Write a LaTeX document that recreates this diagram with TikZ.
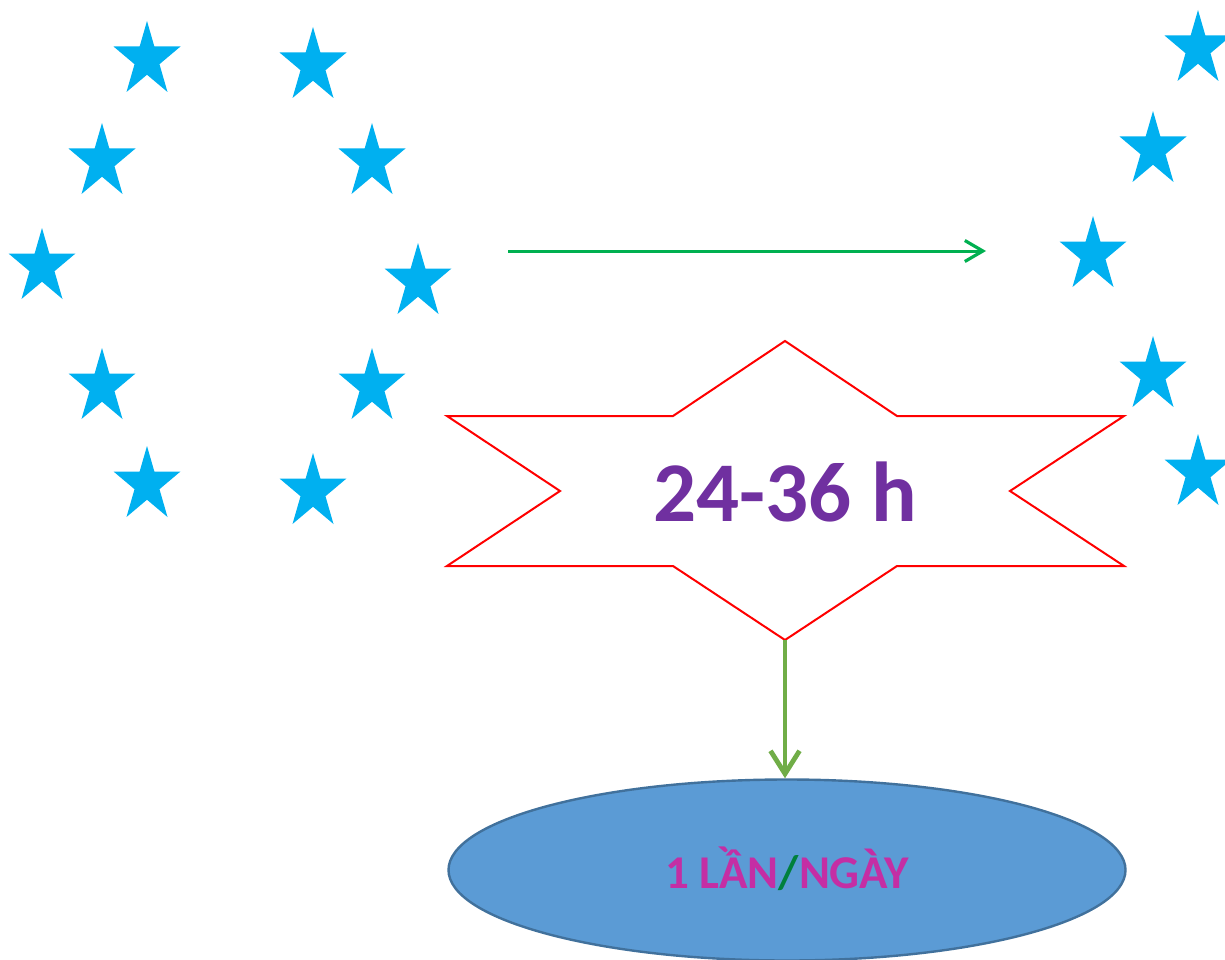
\documentclass[tikz,border=0pt]{standalone}
\usepackage{fontspec}
\setmainfont{Carlito}
\usetikzlibrary{arrows.meta,shapes.geometric}
\definecolor{starblue}{HTML}{00B0F0}
\definecolor{hexred}{HTML}{FF0000}
\definecolor{arrgreen}{HTML}{00B050}
\definecolor{arrgreen2}{HTML}{70AD47}
\definecolor{ellfill}{HTML}{5B9BD5}
\definecolor{elldraw}{HTML}{41719C}
\definecolor{txtpurple}{HTML}{7030A0}
\definecolor{txtmagenta}{HTML}{C42EA4}
\definecolor{slashgreen}{HTML}{00803C}
\tikzset{
  pics/bluestar/.style={code={
    \fill[starblue] (0,0) -- ++(20.5,71) -- ++(-54,-45.5) -- ++(67,0) -- ++(-54,45.5) -- cycle;
  }},
  hexbox/.style={draw=hexred, fill=white, line width=2pt, line join=miter},
  flowarrow/.style={draw=arrgreen, line width=3pt, -{Straight Barb[length=18pt,width=21pt,line width=3.2pt]}},
  downarrow/.style={draw=arrgreen2, line width=4.5pt, -{Straight Barb[length=23pt,width=29pt,line width=4.8pt]}},
  oval/.style={ellipse, draw=elldraw, fill=ellfill, line width=2.4pt, minimum width=677pt, minimum height=181pt, inner sep=0pt}
}
\begin{document}
\begin{tikzpicture}[x=1pt,y=-1pt]
\useasboundingbox (0,0) rectangle (1225,960);
% stars (top-point positions)
\foreach \sx/\sy in {147/21, 313/27, 102/123, 372/123, 42/228, 418/243, 102/348, 372/348, 147/446, 313/453,
                     1198/10, 1153/111, 1093/216, 1153/336, 1198/434}
  \pic at (\sx,\sy) {bluestar};
% horizontal arrow
\coordinate (hstart) at (508,251);
\coordinate (hend) at (986,251);
\draw[flowarrow] (hstart) -- (hend);
% six-pointed banner
\draw[hexbox] (447,416) -- (673,416) -- (785,341) -- (897,416) -- (1124,416) -- (1010,491)
  -- (1124,566) -- (897,566) -- (785,640) -- (673,566) -- (447,566) -- (560,491) -- cycle;
\coordinate (hexbot) at (785,640);
\node[anchor=base, text=txtpurple, font=\fontsize{85}{85}\selectfont\bfseries, inner sep=0pt] (time) at (785,521) {24-36 h};
% ellipse
\node[oval] (ell) at (787,870) {};
\node[anchor=base, text=txtmagenta, font=\fontsize{47}{47}\selectfont\bfseries, inner sep=0pt] (freq) at (787,888) {1 LẦN\textcolor{slashgreen}{/}NGÀY};
\draw[downarrow] (hexbot) -- (hexbot |- ell.north);
\end{tikzpicture}
\end{document}
